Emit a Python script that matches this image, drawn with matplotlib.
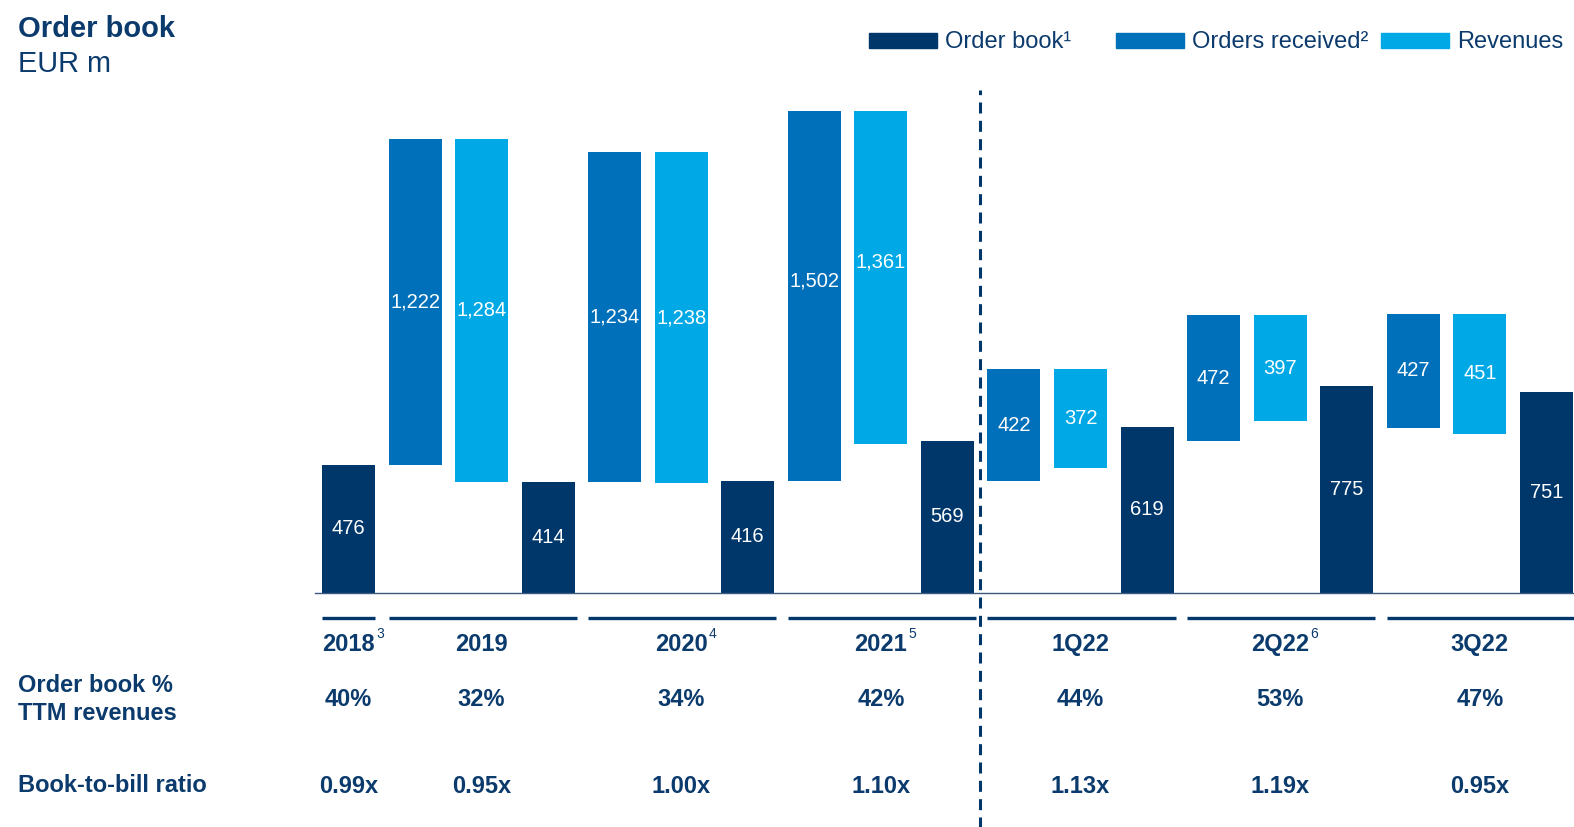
import numpy as np
import matplotlib
matplotlib.use("Agg")
import matplotlib.pyplot as plt
from matplotlib.patches import Rectangle

plt.rcParams['font.family'] = ['Liberation Sans', 'DejaVu Sans']

# data (EUR m)
periods = ['2018', '2019', '2020', '2021', '1Q22', '2Q22', '3Q22']
period_notes = ['3', '', '4', '5', '', '6', '']
order_book = [476, 414, 416, 569, 619, 775, 751]
orders_received = [1222, 1234, 1502, 422, 472, 427]
revenues = [1284, 1238, 1361, 372, 397, 451]
# level where each orders-received bar starts, as drawn in the reference
bridge_start = [476, 414, 416, 416, 566, 617]
ob_pct_ttm = ['40%', '32%', '34%', '42%', '44%', '53%', '47%']
book_to_bill = ['0.99x', '0.95x', '1.00x', '1.10x', '1.13x', '1.19x', '0.95x']

c_ob = '#00376b'
c_or = '#0070ba'
c_rev = '#00a9e5'
c_txt = '#0b3a6c'

W, H = 1574, 827
fig = plt.figure(figsize=(W / 100, H / 100), dpi=100)

# axes: baseline at y=592.5px, top at 111px, left 315px
ax = fig.add_axes([315 / W, (H - 592.5) / H, 1 - 315 / W, (592.5 - 111) / H])
ax.set_xlim(-0.503, 18.415)
ax.set_ylim(0, 1803)
ax.axis('off')

bw = 0.796
lbl = dict(color='white', ha='center', va='center', fontsize=14.5)

# order book bars at 0, 3, 6, ...
ob_x = np.arange(len(order_book)) * 3
ax.bar(ob_x, order_book, width=bw, color=c_ob, zorder=2)
for x, v in zip(ob_x, order_book):
    ax.text(x, v / 2, f'{v:,}', **lbl)

# floating bars: orders received up, revenues down
for k in range(len(orders_received)):
    s = bridge_start[k]
    top = s + orders_received[k]
    end = top - revenues[k]
    xo = 3 * k + 1
    xr = 3 * k + 2
    ax.bar(xo, orders_received[k], bottom=s, width=bw, color=c_or, zorder=2)
    ax.bar(xr, revenues[k], bottom=end, width=bw, color=c_rev, zorder=2)
    ax.text(xo, (s + top) / 2, f'{orders_received[k]:,}', **lbl)
    ax.text(xr, (top + end) / 2, f'{revenues[k]:,}', **lbl)

ax.axhline(0, color='#3c5a80', lw=1.0, zorder=3, clip_on=False)

# dashed divider between annual and quarterly
ax.axvline(9.49, ymin=-0.49, ymax=1.044, color=c_ob, lw=2.2,
           linestyle=(0, (3.6, 2.4)), clip_on=False, zorder=4)

# group underlines, labels and table rows
y_line = -95.5
y_lab = -195
y_pct = -402
y_btb = -725
bold = dict(color=c_txt, ha='center', va='center', fontsize=17, fontweight='bold')
for g, name in enumerate(periods):
    if g == 0:
        x0, x1, xc = -bw / 2, bw / 2, 0
    else:
        x0, x1, xc = 3 * g - 2 - bw / 2, 3 * g + bw / 2 + 0.03, 3 * g - 1
    ax.plot([x0, x1], [y_line, y_line], color=c_ob, lw=2.4, clip_on=False,
            solid_capstyle='butt')
    t = ax.text(xc, y_lab, name, **bold)
    if period_notes[g]:
        ax.annotate(period_notes[g], xy=(1, 1), xycoords=t, xytext=(1, -1),
                    textcoords='offset points', ha='left', va='center',
                    fontsize=10, color=c_txt)
    ax.text(xc, y_pct, ob_pct_ttm[g], **bold)
    ax.text(xc, y_btb, book_to_bill[g], **bold)

# row labels
rl = dict(color=c_txt, ha='left', va='center', fontsize=17, fontweight='bold')
fig.text(18 / W, 1 - 686 / H, 'Order book %', **rl)
fig.text(18 / W, 1 - 714 / H, 'TTM revenues', **rl)
fig.text(18 / W, 1 - 785 / H, 'Book-to-bill ratio', **rl)

# title
fig.text(18 / W, 1 - 29 / H, 'Order book', color=c_txt, ha='left', va='center',
         fontsize=21, fontweight='bold')
fig.text(18 / W, 1 - 64 / H, 'EUR m', color=c_txt, ha='left', va='center',
         fontsize=20.8)

# legend
leg = [(869, c_ob, 'Order book\u00b9'),
       (1116, c_or, 'Orders received\u00b2'),
       (1381, c_rev, 'Revenues')]
for x0, col, name in leg:
    fig.add_artist(Rectangle((x0 / W, 1 - 48 / H), 68 / W, 15 / H,
                             transform=fig.transFigure, color=col))
    fig.text((x0 + 76) / W, 1 - 41.5 / H, name, color=c_txt, ha='left',
             va='center', fontsize=17)

fig.savefig('out.png', dpi=100)
